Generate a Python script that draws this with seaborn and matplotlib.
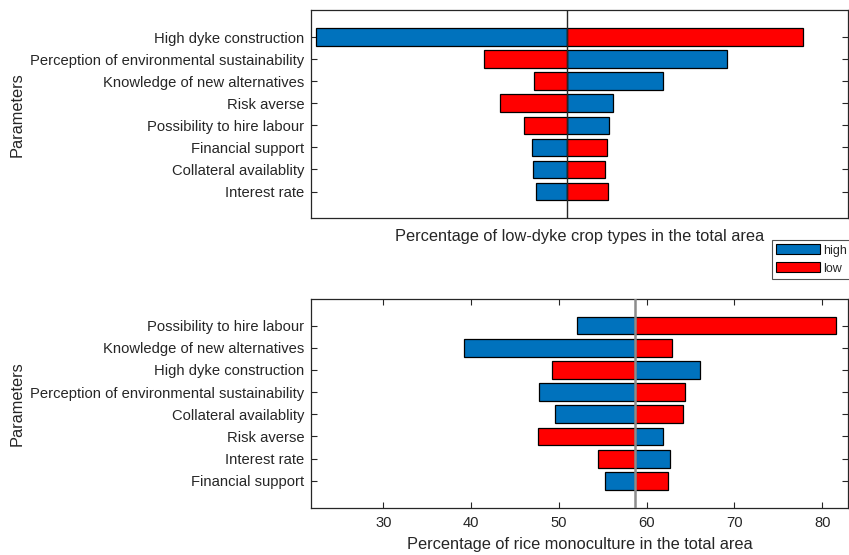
import matplotlib
matplotlib.use("Agg")
import matplotlib.pyplot as plt
import seaborn as sns
import pandas as pd
from matplotlib.patches import Patch

# ---- data ----
top_params = ["High dyke construction", "Perception of environmental sustainability",
              "Knowledge of new alternatives", "Risk averse", "Possibility to hire labour",
              "Financial support", "Collateral availablity", "Interest rate"]
top_high = [22.3, 69.1, 61.9, 56.2, 55.7, 46.9, 47.0, 47.4]
top_low = [77.8, 41.5, 47.2, 43.3, 46.0, 55.5, 55.2, 55.6]
top_base = 50.9

bot_params = ["Possibility to hire labour", "Knowledge of new alternatives",
              "High dyke construction", "Perception of environmental sustainability",
              "Collateral availablity", "Risk averse", "Interest rate", "Financial support"]
bot_high = [52.1, 39.2, 66.1, 47.7, 49.5, 61.9, 62.7, 55.3]
bot_low = [81.6, 62.9, 49.2, 64.4, 64.1, 47.6, 54.5, 62.4]
bot_base = 58.7

x_ticks = [30, 40, 50, 60, 70, 80]
x_lim = (21.8, 83.0)

levels = ["high", "low"]
palette = {"high": "#0072BD", "low": "#FF0000"}
txt = "#262626"

sns.set_theme(style="white")
plt.rcParams["font.family"] = ["Liberation Sans", "DejaVu Sans"]

fig = plt.figure(figsize=(8.49, 5.55), dpi=100)
ax1 = fig.add_axes([0.3669, 0.6067, 0.6325, 0.3747])
ax2 = fig.add_axes([0.3669, 0.0852, 0.6325, 0.3766])


def make_df(params, high, low, base):
    rows = []
    for p, h, l in zip(params, high, low):
        rows.append({"param": p, "level": "high", "delta": h - base})
        rows.append({"param": p, "level": "low", "delta": l - base})
    return pd.DataFrame(rows)


def draw(ax, params, high, low, base, xlabel, base_color, base_lw):
    df = make_df(params, high, low, base)
    sns.barplot(data=df, x="delta", y="param", hue="level", hue_order=levels,
                order=params, palette=palette, dodge=False, width=0.8,
                left=base, edgecolor="black", linewidth=0.9, saturation=1,
                legend=False, ax=ax, orient="h")
    ax.axvline(base, color=base_color, lw=base_lw, zorder=5)
    ax.set_xlim(*x_lim)
    ax.set_ylim(len(params) - 1 + 1.21, -1.21)
    ax.set_ylabel("Parameters", fontsize=11.8, color=txt)
    ax.yaxis.set_label_coords(-0.535, 0.5)
    ax.set_xlabel(xlabel, fontsize=11.8, color=txt)
    ax.tick_params(axis="y", which="both", direction="in", left=True, right=True,
                   length=4, width=0.8, colors=txt, labelsize=10.6, pad=5)
    for s in ax.spines.values():
        s.set_color(txt)
        s.set_linewidth(0.9)


draw(ax1, top_params, top_high, top_low, top_base,
     "Percentage of low-dyke crop types in the total area", "#262626", 1.0)
ax1.set_xticks([])
ax1.xaxis.labelpad = 8

draw(ax2, bot_params, bot_high, bot_low, bot_base,
     "Percentage of rice monoculture in the total area", "#8c8c8c", 1.8)
ax2.set_xticks(x_ticks)
ax2.tick_params(axis="x", which="both", direction="in", bottom=True, top=True,
                length=4, width=0.8, colors=txt, labelsize=10.6, pad=6)
ax2.xaxis.labelpad = 5

handles = [Patch(facecolor=palette[l], edgecolor="black", linewidth=0.8, label=l) for l in levels]
leg = fig.legend(handles=handles, loc="upper left",
                 bbox_to_anchor=(772 / 849, 1 - 240 / 555), fontsize=9,
                 frameon=True, fancybox=False, handlelength=3.5, handleheight=0.85,
                 handletextpad=0.25, labelspacing=0.45, borderpad=0.35, borderaxespad=0)
leg.get_frame().set_edgecolor(txt)
leg.get_frame().set_linewidth(0.8)
for t in leg.get_texts():
    t.set_color(txt)

fig.savefig("out.png", dpi=100)
